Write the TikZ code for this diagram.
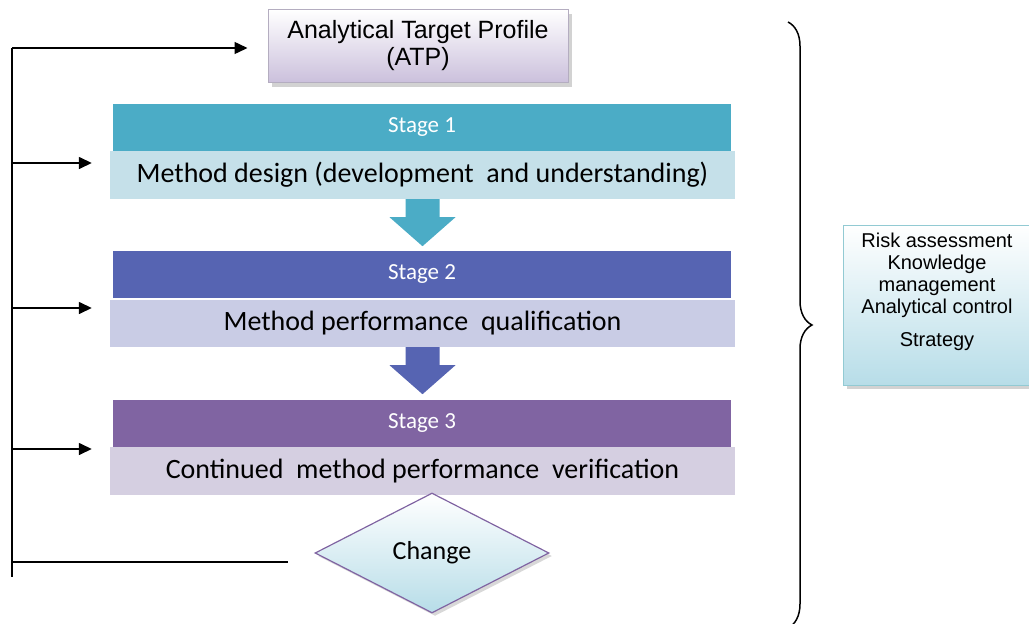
\documentclass[tikz,border=0pt]{standalone}
\usepackage{fontspec}
\setmainfont{Liberation Sans}
\newfontfamily\calib{Carlito}
\usetikzlibrary{arrows.meta,shapes.geometric,shadows,decorations.pathreplacing}
\definecolor{stgA}{HTML}{4BACC6}
\definecolor{stgAl}{HTML}{C5E0E9}
\definecolor{stgB}{HTML}{5664B2}
\definecolor{stgBl}{HTML}{C9CCE5}
\definecolor{stgC}{HTML}{8064A2}
\definecolor{stgCl}{HTML}{D5CFE1}
\definecolor{lav}{HTML}{CBC0DC}
\definecolor{aqua}{HTML}{B7DDE8}
\tikzset{
  stagehead/.style={minimum width=618pt, minimum height=47pt, inner sep=0pt,
    text=white, font=\calib\fontsize{23}{26}\selectfont},
  stagebody/.style={minimum width=625pt, minimum height=48pt, inner sep=0pt,
    font=\calib\fontsize{28}{32}\selectfont},
  fline/.style={line width=1.5pt},
  farrow/.style={fline, -{Triangle[length=13pt,width=12pt]}},
}
\begin{document}
\begin{tikzpicture}[x=1pt,y=-1pt]
\useasboundingbox (0,0) rectangle (1029,624);
%
\node [draw=lav!70!gray, line width=1pt, top color=white, bottom color=lav,
       drop shadow={shadow xshift=4pt, shadow yshift=-4pt, fill=gray!70},
       minimum width=300pt, minimum height=73pt, align=center,
       font=\fontsize{25}{27}\selectfont] (atp) at (418,46)
  {Analytical Target Profile\\(ATP)};
%
\node [stagehead, fill=stgA] (s1h) at (422,127) {Stage 1};
\node [stagebody, fill=stgAl] (s1b) at (422.5,175) {Method design (development\ \ and understanding)};
\node [stagehead, fill=stgB] (s2h) at (422,274) {Stage 2};
\node [stagebody, fill=stgBl, minimum height=47pt] (s2b) at (422.5,323.5) {Method performance\ \ qualification};
\node [stagehead, fill=stgC] (s3h) at (422,423.5) {Stage 3};
\node [stagebody, fill=stgCl] (s3b) at (422.5,471) {Continued\ \ method performance\ \ verification};
%
\fill [stgA] (s1b.south) ++(-17,0) -- ++(34,0) -- ++(0,18) -- ++(16,0)
  -- ++(-33,29) -- ++(-33,-29) -- ++(16,0) -- cycle;
\fill [stgB] (s2b.south) ++(-17,0) -- ++(34,0) -- ++(0,18) -- ++(16,0)
  -- ++(-33,29) -- ++(-33,-29) -- ++(16,0) -- cycle;
%
\node [diamond, draw=stgC, line width=1.2pt, top color=white, bottom color=aqua,
       drop shadow={shadow xshift=3pt, shadow yshift=-3pt, fill=gray!60},
       minimum width=234pt, minimum height=120pt, inner sep=0pt,
       font=\calib\fontsize{26}{30}\selectfont] (chg) at (432,553) {\raisebox{5pt}{Change}};
%
\node [draw=aqua!80!teal, line width=1pt, top color=white, bottom color=aqua,
       drop shadow={shadow xshift=4pt, shadow yshift=-4pt, fill=gray!70},
       minimum width=188pt, minimum height=160pt] (risk) at (937,305) {};
\node [anchor=north, align=center, font=\fontsize{20}{22}\selectfont] (risktxt)
  at ([yshift=-5pt]risk.north) {Risk assessment\\Knowledge\\management\\Analytical control\\[11pt]Strategy};
%
\draw [decorate, decoration={brace, amplitude=24pt, aspect=0.5}, line width=1.5pt]
  (788,22) -- (788,628);
%
\coordinate (ltop) at (12,48);
\coordinate (lbot) at (12,577);
\coordinate (l1) at (12,163);
\coordinate (l2) at (12,308);
\coordinate (l3) at (12,449);
\coordinate (l4) at (12,562);
\draw [fline] (ltop) -- (lbot);
\draw [farrow, shorten >=20pt] (ltop) -- (ltop -| atp.west);
\draw [farrow, shorten >=18pt] (l1) -- (l1 -| s1b.west);
\draw [farrow, shorten >=18pt] (l2) -- (l2 -| s2b.west);
\draw [farrow, shorten >=18pt] (l3) -- (l3 -| s3b.west);
\draw [fline, shorten >=26pt] (l4) -- (l4 -| chg.west);
\end{tikzpicture}
\end{document}
